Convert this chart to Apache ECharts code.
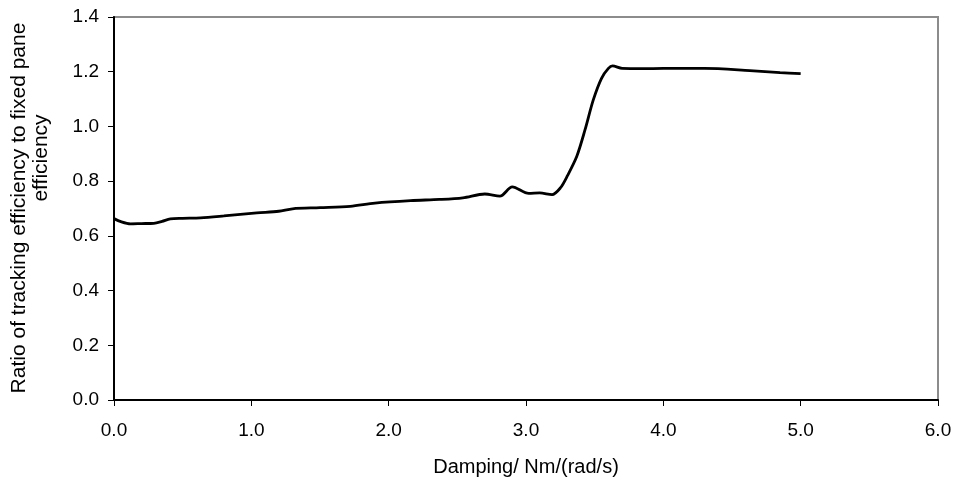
<!DOCTYPE html>
<html>
<head>
<meta charset="utf-8">
<script src="https://cdn.jsdelivr.net/npm/echarts@6/dist/echarts.min.js"></script>
<style>
  html, body { margin: 0; padding: 0; background: #fff; }
  #chart { width: 957px; height: 482px; }
</style>
</head>
<body>
<div id="chart"></div>
<script>
// damping (Nm/(rad/s)) vs ratio of efficiencies
const damping = [0.0, 0.05, 0.12, 0.2, 0.29, 0.35, 0.41, 0.5, 0.63, 0.8, 1.04, 1.2, 1.3, 1.5, 1.72, 1.9, 2.16, 2.37, 2.54, 2.7, 2.81, 2.9, 3.02, 3.1, 3.19, 3.25, 3.3, 3.37, 3.43, 3.49, 3.55, 3.6, 3.63, 3.7, 3.85, 4.0, 4.3, 4.63, 4.85, 5.0];
const ratio = [0.663, 0.652, 0.644, 0.645, 0.646, 0.653, 0.662, 0.664, 0.666, 0.673, 0.684, 0.69, 0.699, 0.703, 0.708, 0.72, 0.729, 0.733, 0.739, 0.753, 0.745, 0.779, 0.755, 0.757, 0.751, 0.775, 0.818, 0.891, 0.988, 1.097, 1.176, 1.212, 1.221, 1.212, 1.211, 1.212, 1.212, 1.204, 1.197, 1.193];

const xTicks = { min: 0, max: 6, step: 1 };
const yTicks = { min: 0, max: 1.4, step: 0.2 };

const FONT = "Liberation Sans, Arial, sans-serif";

const chart = echarts.init(document.getElementById("chart"));

chart.setOption({
  animation: false,
  backgroundColor: "#fff",
  grid: { left: 114, right: 19, top: 17, bottom: 81, show: true, borderColor: "#8c8c8c", borderWidth: 2 },
  xAxis: {
    type: "value",
    min: xTicks.min, max: xTicks.max, interval: xTicks.step,
    name: "Damping/ Nm/(rad/s)",
    nameLocation: "middle",
    nameGap: 57,
    nameTextStyle: { fontFamily: FONT, fontSize: 20, color: "#000" },
    axisLine: { show: true, lineStyle: { color: "#000", width: 2 } },
    axisTick: { show: true, length: 6, lineStyle: { color: "#000" } },
    axisLabel: { fontFamily: FONT, fontSize: 19, color: "#000", margin: 21, formatter: v => v.toFixed(1) },
    splitLine: { show: false }
  },
  yAxis: {
    type: "value",
    min: yTicks.min, max: yTicks.max, interval: yTicks.step,
    axisLine: { show: true, lineStyle: { color: "#000", width: 2 } },
    axisTick: { show: true, length: 6, lineStyle: { color: "#000" } },
    axisLabel: { fontFamily: FONT, fontSize: 19, color: "#000", margin: 15, formatter: v => v.toFixed(1) },
    splitLine: { show: false }
  },
  graphic: [
    {
      type: "text", x: 19, y: 208, rotation: Math.PI / 2,
      style: { text: "Ratio of tracking efficiency to fixed pane", fontFamily: FONT, fontSize: 21, fill: "#000", align: "center", verticalAlign: "middle" }
    },
    {
      type: "text", x: 41, y: 158, rotation: Math.PI / 2,
      style: { text: "efficiency", fontFamily: FONT, fontSize: 21, fill: "#000", align: "center", verticalAlign: "middle" }
    }
  ],
  series: [{
    type: "line",
    data: damping.map((d, i) => [d, ratio[i]]),
    smooth: 0.3,
    showSymbol: false,
    lineStyle: { color: "#000", width: 2.8 }
  }]
});
</script>
</body>
</html>
